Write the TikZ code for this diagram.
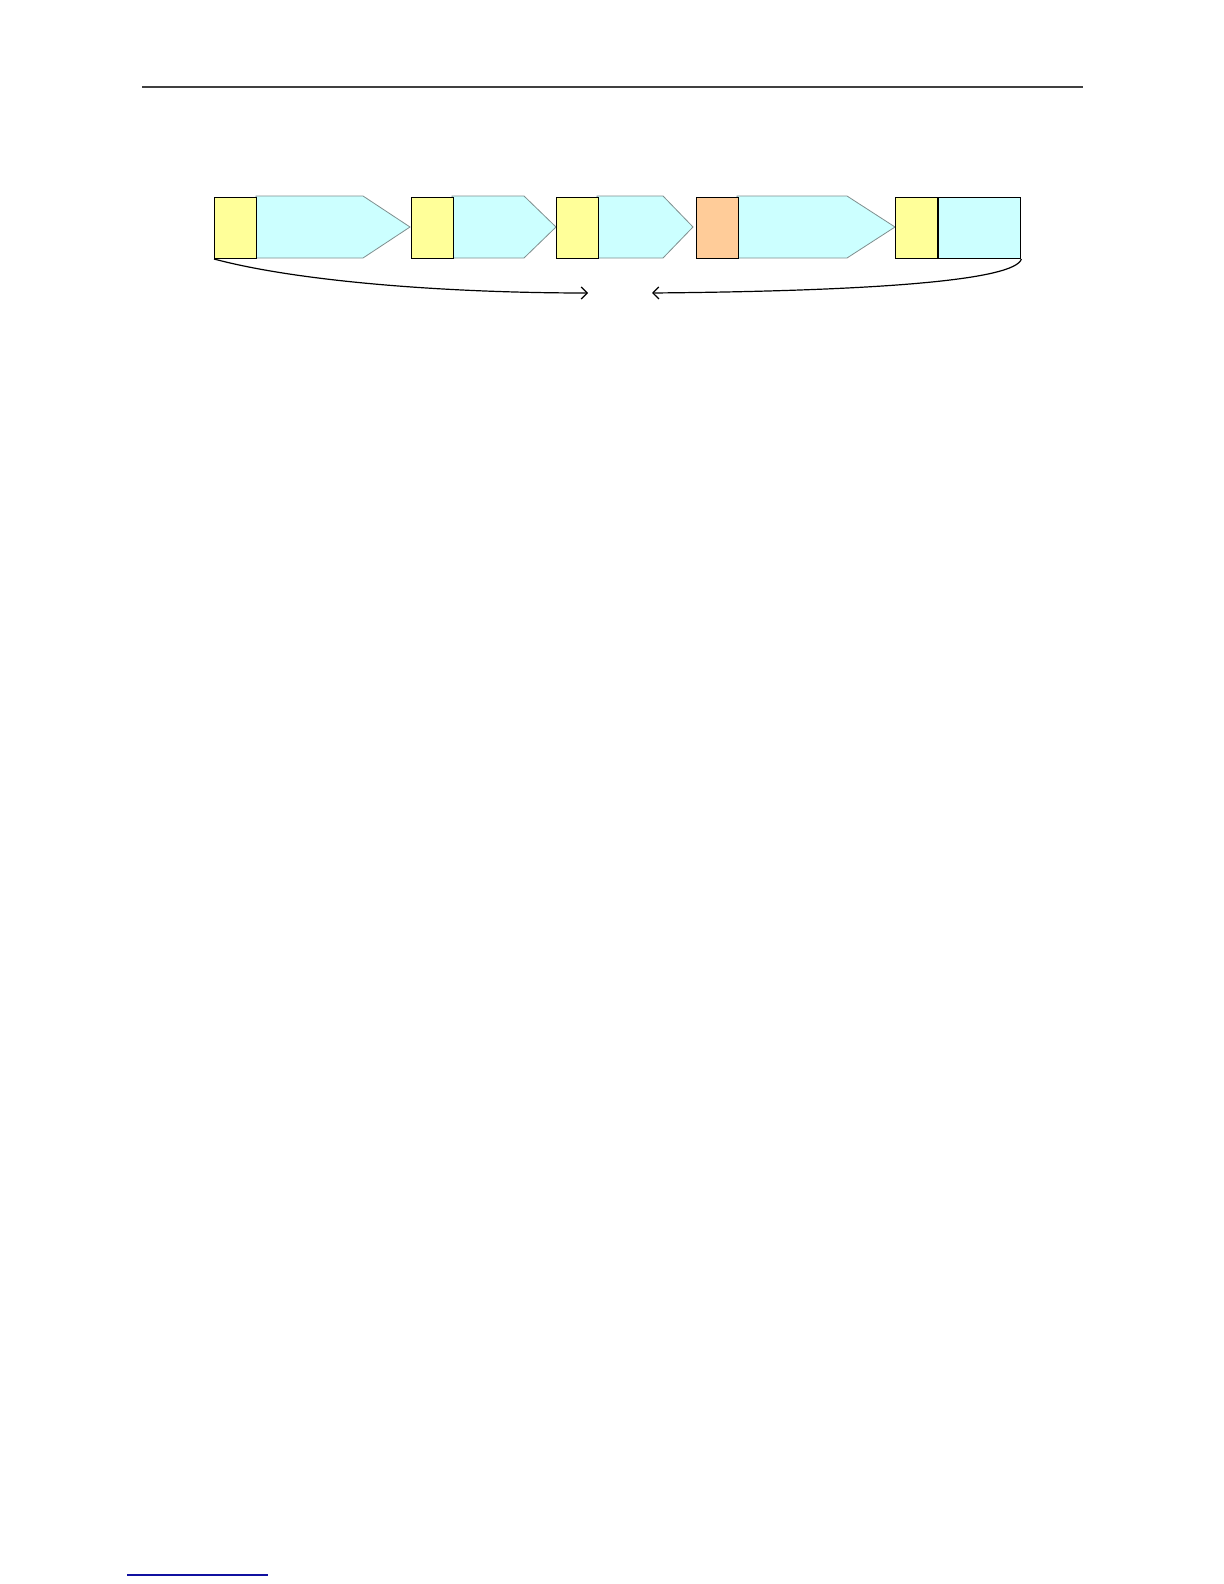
\documentclass[tikz,border=0pt]{standalone}
\usetikzlibrary{arrows.meta}
\definecolor{ybox}{HTML}{FFFF99}
\definecolor{cbox}{HTML}{CCFFFF}
\definecolor{obox}{HTML}{FFCC99}
\definecolor{cedge}{HTML}{7F8F8F}
\definecolor{rulecol}{HTML}{404040}
\definecolor{linkblue}{HTML}{1010A0}
\tikzset{
  sq/.style={draw=black, line width=0.6pt, inner sep=0pt, minimum width=21pt, minimum height=30.5pt, anchor=south west},
  yel/.style={sq, fill=ybox},
  org/.style={sq, fill=obox},
  pent/.style={fill=cbox, draw=cedge, line width=0.4pt},
  conn/.style={draw=black, line width=0.6pt, -{Straight Barb[length=3pt,width=6pt]}}
}
\begin{document}
\begin{tikzpicture}[x=0.5pt,y=-0.5pt]
\useasboundingbox (0,0) rectangle (1224,1584);
% header rule
\draw[rulecol, line width=0.7pt] (142,87) -- (1083,87);
% cyan pentagons
\draw[pent] (256,196) -- (363,196) -- (410,227) -- (363,258) -- (256,258) -- cycle;
\draw[pent] (452,196) -- (524,196) -- (556,227) -- (524,258) -- (452,258) -- cycle;
\draw[pent] (597,196) -- (663,196) -- (693,227) -- (663,258) -- (597,258) -- cycle;
\draw[pent] (737,196) -- (847,196) -- (895,227) -- (847,258) -- (737,258) -- cycle;
% boxes
\node[yel] (y1) at (214,259) {};
\node[yel] (y2) at (411,259) {};
\node[yel] (y3) at (556,259) {};
\node[org] (o4) at (696,259) {};
\node[yel] (y5) at (895,259) {};
\node[draw=black, line width=0.6pt, fill=cbox, inner sep=0pt, minimum width=41pt, minimum height=30.5pt, anchor=south west] (c5) at (y5.south east) {};
% connectors
\coordinate (e1) at (588,293);
\coordinate (e2) at (652,293);
\draw[conn] (y1.south west) .. controls (300,282) and (450,293) .. (e1);
\draw[conn] (c5.south east) .. controls (1015,280) and (880,291) .. (e2);
% bottom link rule
\draw[linkblue, line width=0.6pt] (127,1575) -- (268,1575);
\end{tikzpicture}
\end{document}
